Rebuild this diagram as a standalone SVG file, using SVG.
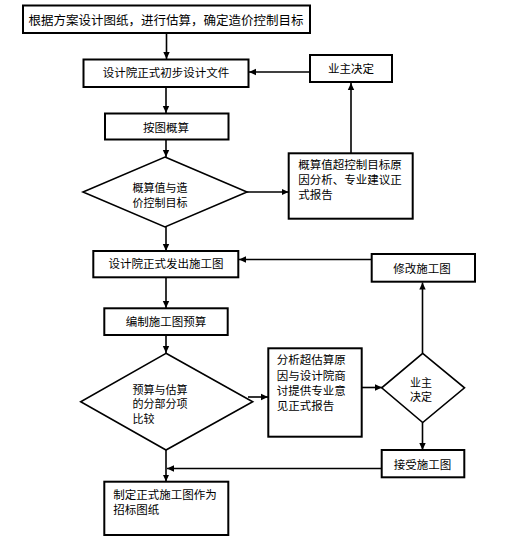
<svg xmlns="http://www.w3.org/2000/svg" width="506" height="548" viewBox="0 0 506 548">
<style>
.box{fill:#fff;stroke:#000;stroke-width:2}
.dia{fill:#fff;stroke:#000;stroke-width:1.6}
.ln{fill:none;stroke:#000;stroke-width:1.6;marker-end:url(#ah)}
text{font-family:"Noto Sans CJK SC","Liberation Sans",sans-serif;font-size:11.5px;fill:#000;dominant-baseline:central}
.c{text-anchor:middle}
.t{font-size:12.5px}
.d{font-size:11px}
</style>
<defs>
<marker id="ah" markerUnits="userSpaceOnUse" markerWidth="8" markerHeight="8" refX="7" refY="4" orient="auto">
<path d="M0,0.8 L7,4 L0,7.2 Z" fill="#000"/>
</marker>
</defs>
<rect width="506" height="548" fill="#fff"/>
<g id="connectors">
<line class="ln" x1="166.5" y1="33" x2="166.5" y2="59"/>
<line class="ln" x1="310" y1="72" x2="249" y2="72"/>
<line class="ln" x1="166" y1="87" x2="166" y2="113"/>
<line class="ln" x1="166" y1="139.5" x2="166" y2="157"/>
<line class="ln" x1="247" y1="192" x2="288.5" y2="192"/>
<line class="ln" x1="351" y1="153" x2="351" y2="83"/>
<line class="ln" x1="166" y1="227" x2="166" y2="251"/>
<line class="ln" x1="372" y1="259.5" x2="239" y2="259.5"/>
<line class="ln" x1="166" y1="277.5" x2="166" y2="308"/>
<line class="ln" x1="166" y1="335" x2="166" y2="353"/>
<line class="ln" x1="248" y1="397" x2="268" y2="397"/>
<line class="ln" x1="362" y1="387.5" x2="382" y2="387.5"/>
<line class="ln" x1="422.5" y1="353" x2="422.5" y2="282.5"/>
<line class="ln" x1="422.5" y1="422.5" x2="422.5" y2="450"/>
<line class="ln" x1="382" y1="468.5" x2="167" y2="468.5"/>
<line class="ln" x1="166" y1="450" x2="166" y2="481.5"/>
</g>
<g id="n1"><rect class="box" x="23" y="5.5" width="287" height="27.5"/><text class="c t" x="166" y="19">根据方案设计图纸，进行估算，确定造价控制目标</text></g>
<g id="n2"><rect class="box" x="83.5" y="59.5" width="165" height="27.5"/><text class="c" x="166" y="72">设计院正式初步设计文件</text></g>
<g id="n3"><rect class="box" x="310" y="55" width="82" height="27"/><text class="c" x="351" y="68">业主决定</text></g>
<g id="n4"><rect class="box" x="105" y="113.5" width="123.5" height="26"/><text class="c" x="166" y="126.5">按图概算</text></g>
<g id="n5"><polygon class="dia" points="165,157 247,192 165,227 83,192"/><text class="d" x="132.5" y="187">概算值与造</text><text class="d" x="132.5" y="202">价控制目标</text></g>
<g id="n6"><rect class="box" x="288.7" y="153.3" width="124" height="65.4"/><text x="298.3" y="164.3">概算值超控制目标原</text><text x="298.3" y="179">因分析、专业建议正</text><text x="298.3" y="194.3">式报告</text></g>
<g id="n7"><rect class="box" x="93.3" y="251" width="145" height="26.3"/><text class="c" x="166" y="263">设计院正式发出施工图</text></g>
<g id="n8"><rect class="box" x="371.7" y="254" width="103.3" height="27.7"/><text class="c" x="422" y="267.5">修改施工图</text></g>
<g id="n9"><rect class="box" x="104.3" y="308.3" width="123.4" height="26.7"/><text class="c" x="166" y="321.3">编制施工图预算</text></g>
<g id="n10"><polygon class="dia" points="166,353.3 252.7,401.7 166,450 80.7,401.7"/><text class="d" x="132.5" y="388.5">预算与估算</text><text class="d" x="132.5" y="403">的分部分项</text><text class="d" x="132.5" y="417.5">比较</text></g>
<g id="n11"><rect class="box" x="268.3" y="348.3" width="93.4" height="88.4"/><text x="276.7" y="359.3">分析超估算原</text><text x="276.7" y="375">因与设计院商</text><text x="276.7" y="390.3">讨提供专业意</text><text x="276.7" y="405.3">见正式报告</text></g>
<g id="n12"><polygon class="dia" points="422.7,353.3 464.5,387.8 422.7,422.5 381.7,387.8"/><text class="d" x="410" y="381.5">业主</text><text class="d" x="410" y="396">决定</text></g>
<g id="n13"><rect class="box" x="381.7" y="450" width="82.6" height="27.3"/><text class="c" x="422.5" y="463.5">接受施工图</text></g>
<g id="n14"><rect class="box" x="104.3" y="481.7" width="124" height="53.3"/><text x="113.3" y="494">制定正式施工图作为</text><text x="113.3" y="509">招标图纸</text></g>
</svg>
